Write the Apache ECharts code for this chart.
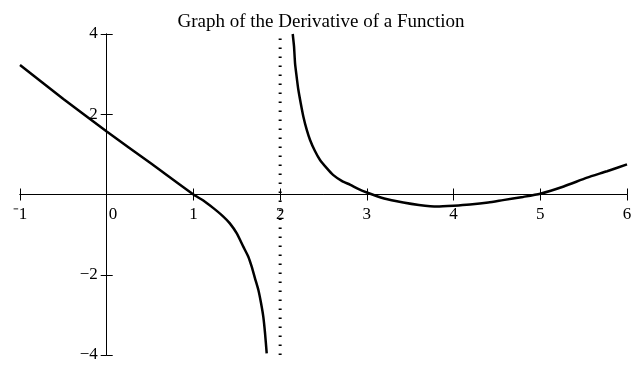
<!DOCTYPE html>
<html>
 <head>
  <title>Graph of the Derivative of a Function</title>
  <script src="https://cdn.jsdelivr.net/npm/echarts@6/dist/echarts.min.js"></script>
  <style>
    html, body, #container {
    width: 100%;
    height: 100%;
    margin: 0;
    padding: 0;
    background: #fff;
    }
  </style>
 </head>

<body>
  <div id="container"></div>
  <script>
    // values
    var leftX  = [-1, -0.5, 0, 0.5, 1, 1.114, 1.23, 1.345, 1.42, 1.5, 1.575, 1.633, 1.672, 1.71, 1.749, 1.78, 1.806, 1.826, 1.845];
    var leftY  = [3.23, 2.38, 1.57, 0.79, 0, -0.15, -0.34, -0.55, -0.72, -0.97, -1.3, -1.55, -1.8, -2.09, -2.38, -2.71, -3.05, -3.46, -3.96];
    var rightX = [2.145, 2.16, 2.172, 2.19, 2.21, 2.238, 2.268, 2.307, 2.345, 2.4, 2.46, 2.54, 2.61, 2.71, 2.81, 2.9, 3.0,
                  3.2, 3.42, 3.6, 3.81, 4.0, 4.19, 4.4, 4.57, 4.8, 5.0, 5.27, 5.54, 5.77, 6];
    var rightY = [4.0, 3.69, 3.27, 2.94, 2.61, 2.27, 1.94, 1.61, 1.36, 1.09, 0.86, 0.65, 0.49, 0.34, 0.24, 0.14, 0.05,
                  -0.1, -0.2, -0.26, -0.3, -0.28, -0.25, -0.2, -0.14, -0.06, 0.02, 0.2, 0.42, 0.58, 0.75];
    var asymptoteX = 2;
    var xTicks = [-1, 0, 1, 2, 3, 4, 5, 6];
    var yTicks = [-4, -2, 0, 2, 4];

    function pairs(xs, ys) {
      return xs.map(function (x, i) { return [x, ys[i]]; });
    }

    var font = '"Liberation Serif", "Times New Roman", serif';
    var W = 642, H = 366;
    var grid = { left: 20, right: 15, top: 34, bottom: 11 };
    var xMin = xTicks[0], xMax = xTicks[xTicks.length - 1];
    var yMin = yTicks[0], yMax = yTicks[yTicks.length - 1];
    // put the axes through the origin (labels follow via offset)
    var plotW = W - grid.left - grid.right, plotH = H - grid.top - grid.bottom;
    var xAxisOffset = -plotH * (0 - yMin) / (yMax - yMin);
    var yAxisOffset = -plotW * (0 - xMin) / (xMax - xMin);

    var chartDom = document.getElementById('container');
    var myChart = echarts.init(chartDom);

    var tickStyle = { color: '#000', width: 1 };
    var lineStyle = { color: '#000', width: 1 };
    var labelStyle = { fontFamily: font, fontSize: 17, color: '#000' };

    function xAxisDef(inside) {
      return {
        type: 'value', min: xMin, max: xMax, interval: 1,
        position: 'bottom', offset: xAxisOffset,
        axisLine: { onZero: false, lineStyle: lineStyle },
        splitLine: { show: false },
        axisTick: { inside: inside, length: 6, lineStyle: tickStyle },
        axisLabel: inside ? { show: false } : Object.assign({
          margin: 7,
          showMinLabel: true,
          showMaxLabel: true,
          formatter: function (v) {
            if (v === 0) return '   0';
            return v < 0 ? '\u207B' + Math.abs(v) : String(v);
          }
        }, labelStyle)
      };
    }
    function yAxisDef(inside) {
      return {
        type: 'value', min: yMin, max: yMax, interval: 2,
        position: 'left', offset: yAxisOffset,
        axisLine: { onZero: false, lineStyle: lineStyle },
        splitLine: { show: false },
        axisTick: { inside: inside, length: 6, lineStyle: tickStyle },
        axisLabel: inside ? { show: false } : Object.assign({
          margin: 9,
          formatter: function (v) {
            if (v === 0) return '';
            return v < 0 ? '\u2212' + Math.abs(v) : String(v);
          }
        }, labelStyle)
      };
    }

    var options = {
      animation: false,
      title: {
        text: 'Graph of the Derivative of a Function',
        left: 'center',
        top: 3,
        textStyle: { fontFamily: font, fontSize: 19, fontWeight: 'normal', color: '#000' }
      },
      grid: Object.assign({ containLabel: false, outerBoundsMode: 'none' }, grid),
      xAxis: [xAxisDef(false), xAxisDef(true)],
      yAxis: [yAxisDef(false), yAxisDef(true)],
      series: [
        {
          type: 'line',
          data: pairs(leftX, leftY),
          showSymbol: false,
          smooth: 0.2,
          lineStyle: { color: '#000', width: 2.5 }
        },
        {
          type: 'line',
          data: pairs(rightX, rightY),
          showSymbol: false,
          smooth: 0.2,
          lineStyle: { color: '#000', width: 2.5 }
        },
        {
          type: 'line',
          data: [[asymptoteX, yMin], [asymptoteX, yMax]],
          showSymbol: false,
          lineStyle: { color: '#000', width: 3, type: [1.5, 7.5] }
        }
      ]
    };

    myChart.setOption(options);
  </script>
</body>
</html>
